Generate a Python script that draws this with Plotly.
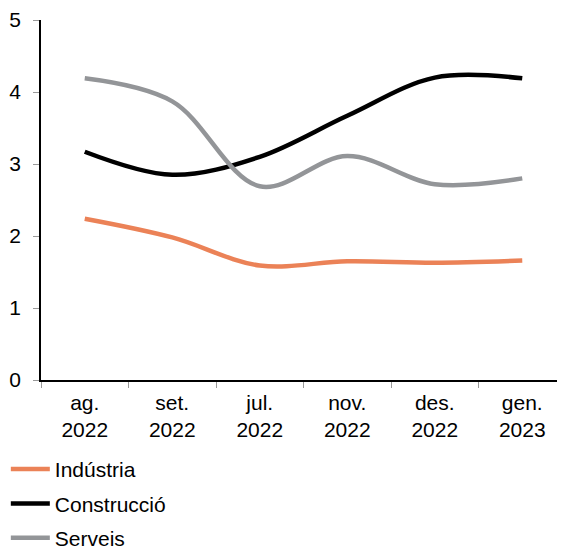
import plotly.graph_objects as go

categories = ["ag.<br>2022", "set.<br>2022", "jul.<br>2022", "nov.<br>2022", "des.<br>2022", "gen.<br>2023"]
industria = [2.24, 1.98, 1.59, 1.65, 1.63, 1.66]
construccio = [3.17, 2.85, 3.10, 3.67, 4.20, 4.19]
serveis = [4.19, 3.87, 2.69, 3.11, 2.72, 2.80]

series = [
    ("Indústria", industria, "#EB8257"),
    ("Construcció", construccio, "#000000"),
    ("Serveis", serveis, "#939598"),
]

fig = go.Figure()
for i, (name, vals, col) in enumerate(series):
    fig.add_trace(go.Scatter(
        x=categories, y=vals, name=name, mode="lines",
        line=dict(color=col, width=4.5, shape="spline", smoothing=1),
        legendgroup=f"g{i}",
    ))

fig.update_layout(
    width=565, height=551,
    margin=dict(l=33, r=7, t=12, b=179, autoexpand=False),
    plot_bgcolor="white", paper_bgcolor="white",
    font=dict(family="Liberation Sans, Arial", size=21, color="#000000"),
    showlegend=True,
    legend=dict(
        orientation="v",
        x=-0.067, xanchor="left", y=-0.1915, yanchor="top",
        traceorder="grouped", tracegroupgap=4,
        font=dict(size=21), bgcolor="rgba(0,0,0,0)", itemwidth=39,
    ),
)
fig.update_xaxes(
    type="category", range=[-0.5, 5.5],
    showline=True, linecolor="#000000", linewidth=1.5,
    ticks="outside", tickson="boundaries", ticklen=6, tickcolor="#999999",
    showgrid=False, zeroline=False,
    tickfont=dict(size=21), ticklabelstandoff=3,
)
fig.update_yaxes(
    range=[0, 5], dtick=1, tick0=0,
    showline=True, linecolor="#000000", linewidth=1.5,
    ticks="outside", ticklen=6, tickcolor="#999999",
    showgrid=False, zeroline=False,
    tickfont=dict(size=21), ticklabelstandoff=8,
)

fig.write_html("out.html")
